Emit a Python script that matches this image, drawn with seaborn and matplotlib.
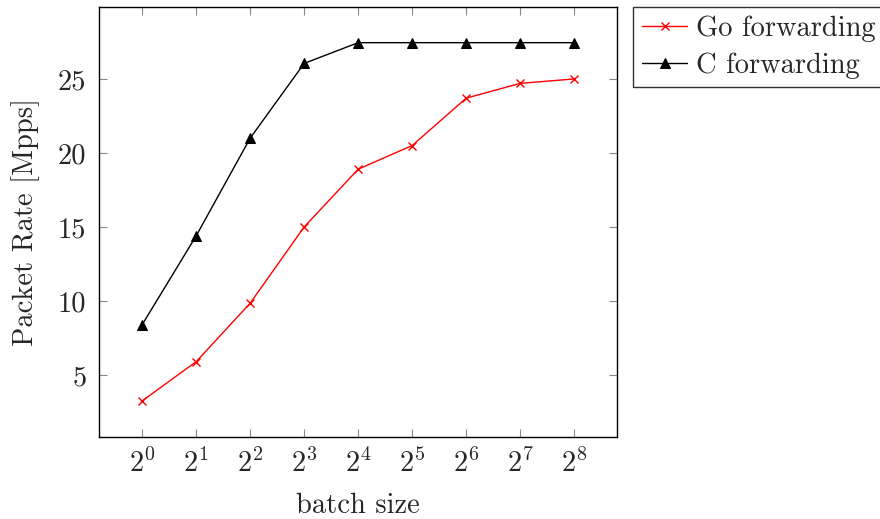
import numpy as np
import pandas as pd
import matplotlib
matplotlib.use("Agg")
import matplotlib.pyplot as plt
import seaborn as sns

batch_exp = [0, 1, 2, 3, 4, 5, 6, 7, 8]
go_rate = [3.25, 5.9, 9.85, 15.0, 18.9, 20.5, 23.7, 24.7, 25.0]
c_rate = [8.4, 14.4, 21.0, 26.05, 27.45, 27.45, 27.45, 27.45, 27.45]
series_names = ["Go forwarding", "C forwarding"]
x_tick_labels = [rf"$2^{{{e}}}$" for e in batch_exp]
y_ticks = [5, 10, 15, 20, 25]

sns.set_theme(style="ticks")
plt.rcParams["font.family"] = ["cmr10"]
plt.rcParams["mathtext.fontset"] = "cm"
plt.rcParams["axes.formatter.use_mathtext"] = True

FS = 20.5
batch = [2 ** e for e in batch_exp]

fig = plt.figure(figsize=(8.8, 5.19), dpi=100)
ax = fig.add_axes([0.1125, 0.158, 0.589, 0.8285])

sns.lineplot(x=batch, y=go_rate, color="red", marker="x", markersize=7,
             markeredgewidth=1.0, markeredgecolor="red", linewidth=1.0,
             label=series_names[0], ax=ax)
sns.lineplot(x=batch, y=c_rate, color="black", marker="^", markersize=8,
             markerfacecolor="black", markeredgecolor="black",
             linewidth=1.0, label=series_names[1], ax=ax)

ax.set_xscale("log", base=2)
ax.set_xlim(2 ** -0.8, 2 ** 8.8)
ax.set_ylim(0.81, 29.86)
ax.set_xticks(batch)
ax.set_xticklabels(x_tick_labels)
ax.minorticks_off()
ax.set_yticks(y_ticks)
ax.set_yticklabels([str(v) for v in y_ticks])

ax.tick_params(direction="in", length=6, width=0.8, color="#888888",
               top=True, right=True, labelsize=FS, pad=9)
ax.tick_params(axis="y", pad=9)
for s in ax.spines.values():
    s.set_color("black")
    s.set_linewidth(1.0)

ax.set_xlabel("batch size", fontsize=FS, labelpad=10)
ax.set_ylabel("Packet Rate [Mpps]", fontsize=FS, labelpad=13)

handles, labels = ax.get_legend_handles_labels()
for h in handles:
    if h.get_marker() == "x":
        h.set_markersize(6)
        h.set_markeredgecolor("red")
    else:
        h.set_markersize(7)
leg = ax.legend(handles, labels, loc="upper left", bbox_to_anchor=(1.031, 1.0),
                fontsize=FS, frameon=True, fancybox=False, borderaxespad=0,
                handlelength=1.6, handletextpad=0.3, borderpad=0.3,
                labelspacing=0.35, edgecolor="black")
leg.get_frame().set_linewidth(1.0)

fig.savefig("out.png", dpi=100)
